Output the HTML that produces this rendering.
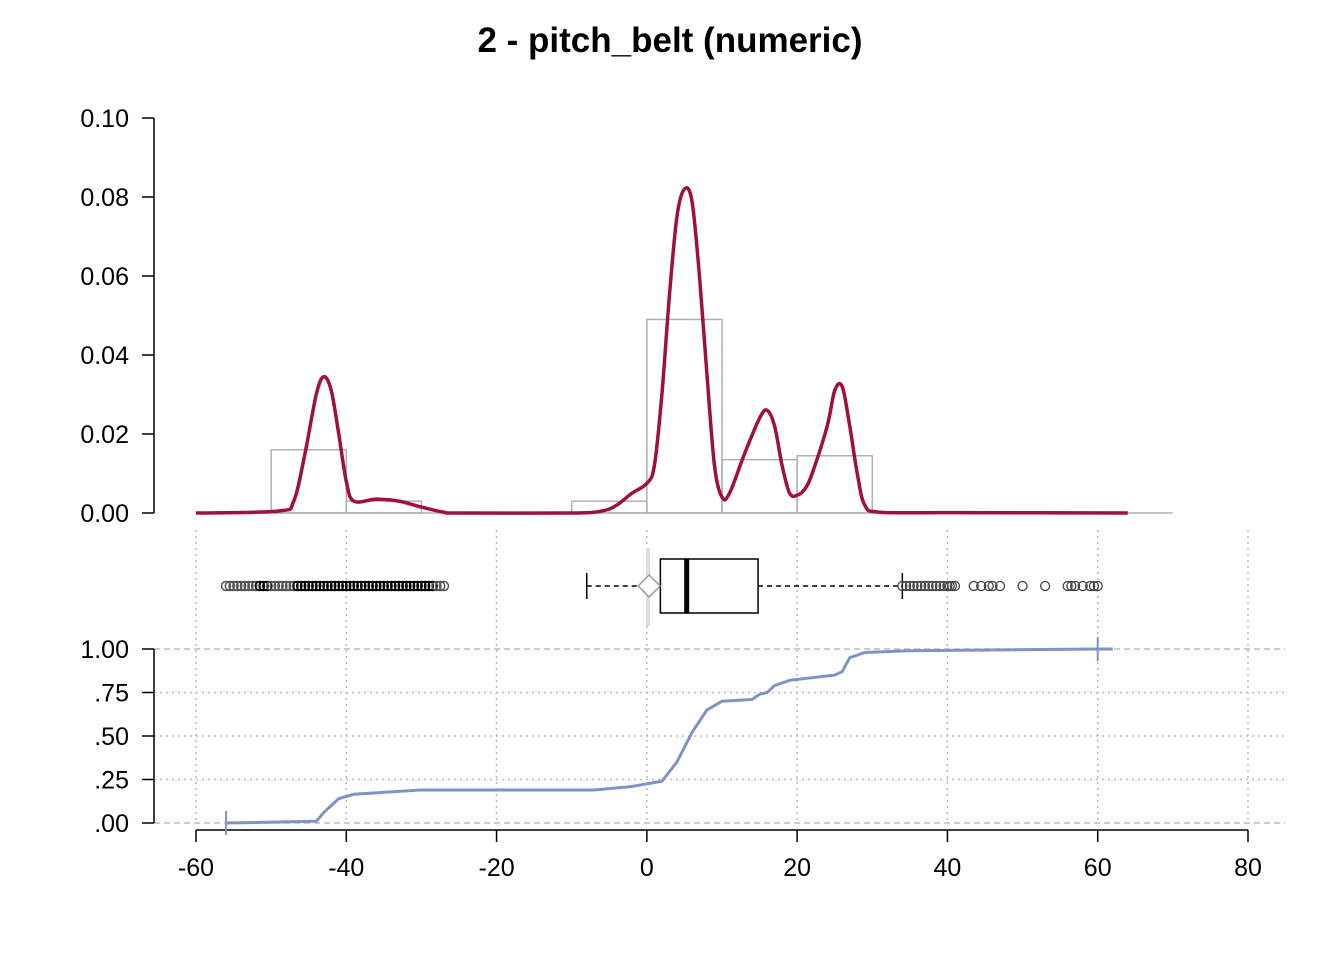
<!DOCTYPE html>
<html><head><meta charset="utf-8"><style>
body{margin:0;background:#fff}
text{font-family:"Liberation Sans",Arial,sans-serif}
</style></head><body>
<svg id="c" width="1344" height="960" xmlns="http://www.w3.org/2000/svg">
<text x="670" y="52" text-anchor="middle" font-size="35" font-weight="bold">2 - pitch_belt (numeric)</text>
<g id="g"></g>
</svg>
<script>
const histBins=[-50,-40,-30,-20,-10,0,10,20];
const histVals=[0.016,0.003,0,0,0.003,0.049,0.0135,0.0145];
const densX=[-60,-49,-47,-45.5,-44,-43,-42,-41,-40,-39,-36,-33,-30,-27,-25,-10,-6,-4,-2,0,1,2,3,4,5,6,7,8,9,10,11,13,15,16,17,18,19,20,21,22,24,25,26,27,28,29,31,40,64];
const densY=[0,0.0005,0.003,0.015,0.03,0.0345,0.031,0.02,0.008,0.003,0.0035,0.003,0.0015,0.0002,0,0,0.0005,0.002,0.005,0.0075,0.012,0.03,0.055,0.075,0.082,0.079,0.06,0.035,0.012,0.004,0.005,0.015,0.024,0.026,0.022,0.012,0.005,0.0045,0.006,0.01,0.022,0.031,0.032,0.022,0.01,0.002,0.0002,0.0001,0];
const ecdfX=[-56,-44,-43,-41,-39,-30,-20,-7,-2,2,4,6,8,10,14,15,16,17,19,25,26,27,29,35,60];
const ecdfY=[0,0.01,0.06,0.14,0.165,0.19,0.19,0.19,0.21,0.24,0.35,0.52,0.65,0.70,0.71,0.74,0.75,0.79,0.82,0.85,0.87,0.95,0.98,0.99,1.0];
const boxStats=[-8,1.8,5.3,14.8,34]; const meanVal=0.3;
const outliersLeft=[-56,-55.5,-55,-54.5,-54,-53.5,-53,-52.5,-52,-51.5,-51,-50.5,-50,-49.5,-49,-48.5,-48,-47.5,-47,-46.5,-46,-45.5,-45,-44.5,-44,-43.5,-43,-42.5,-42,-41.5,-41,-40.5,-40,-39.5,-39,-38.5,-38,-37.5,-37,-36.5,-36,-35.5,-35,-34.5,-34,-33.5,-33,-32.5,-32,-31.5,-31,-30.5,-30,-29.5,-29,-28.5,-28,-27.5,-27];
const outliersRight=[34,34.5,35,35.5,36,36.5,37,37.5,38,38.5,39,39.5,40,40.3,40.6,41,43.5,44.5,45.5,46,47,50,53,56,56.5,57,58,59,59.5,60];
const xTicks=[-60,-40,-20,0,20,40,60,80];
const densTicks=[0,0.02,0.04,0.06,0.08,0.10];
const ecdfTicks=[0,0.25,0.5,0.75,1];
const ecdfLabels=[".00",".25",".50",".75","1.00"];
const X=v=>196+(v+60)*1052/140, YD=v=>513-v*3950, YE=v=>823-v*174;
const g=document.getElementById('g');const NS='http://www.w3.org/2000/svg';
function el(t,a,name){const e=document.createElementNS(NS,t);for(const k in a)e.setAttribute(k,a[k]);


g.appendChild(e);return e;}
function smooth(pts){let d='M'+pts[0][0]+','+pts[0][1];for(let i=0;i<pts.length-1;i++){const p0=pts[i-1]||pts[i],p1=pts[i],p2=pts[i+1],p3=pts[i+2]||p2;
const c1=[p1[0]+(p2[0]-p0[0])/6,p1[1]+(p2[1]-p0[1])/6],c2=[p2[0]-(p3[0]-p1[0])/6,p2[1]-(p3[1]-p1[1])/6];
d+=` C${c1[0]},${c1[1]} ${c2[0]},${c2[1]} ${p2[0]},${p2[1]}`;}return d;}
// grid
xTicks.forEach(v=>el('line',{x1:X(v),x2:X(v),y1:530,y2:823,stroke:'#bbb','stroke-dasharray':'2,4','stroke-width':1.5},'grid-vertical'));
ecdfTicks.forEach(v=>el('line',{x1:154,x2:1285,y1:YE(v),y2:YE(v),stroke:'#bbb','stroke-dasharray':(v==0||v==1)?'6,4':'2,4','stroke-width':1.5},'grid-horizontal'));
// histogram
histBins.forEach((b,i)=>{if(histVals[i]>0)el('rect',{x:X(b),y:YD(histVals[i]),width:X(b+10)-X(b),height:YD(0)-YD(histVals[i]),fill:'none',stroke:'#b0b0b0','stroke-width':1.5},'histogram-bar');});
el('line',{x1:X(-60),x2:X(70),y1:513,y2:513,stroke:'#b0b0b0','stroke-width':1.5},'histogram-baseline');
el('path',{d:smooth(densX.map((x,i)=>[X(x),YD(densY[i])])),fill:'none',stroke:'#a0103f','stroke-width':3.5,'stroke-linejoin':'round'},'density-curve');
// axes
el('line',{x1:154,x2:154,y1:YD(0.1),y2:YD(0),stroke:'#000','stroke-width':1.5},'density-y-axis');
densTicks.forEach(v=>{el('line',{x1:142,x2:154,y1:YD(v),y2:YD(v),stroke:'#000','stroke-width':1.5},'density-y-tick');
const t=el('text',{x:129,y:YD(v)+9,'text-anchor':'end','font-size':25},'density-y-label');t.textContent=v.toFixed(2);});
el('line',{x1:154,x2:154,y1:YE(1),y2:YE(0),stroke:'#000','stroke-width':1.5},'ecdf-y-axis');
ecdfTicks.forEach((v,i)=>{el('line',{x1:142,x2:154,y1:YE(v),y2:YE(v),stroke:'#000','stroke-width':1.5},'ecdf-y-tick');
const t=el('text',{x:129,y:YE(v)+9,'text-anchor':'end','font-size':25},'ecdf-y-label');t.textContent=ecdfLabels[i];});
el('line',{x1:X(-60),x2:X(80),y1:830,y2:830,stroke:'#000','stroke-width':1.5},'x-axis');
xTicks.forEach(v=>{el('line',{x1:X(v),x2:X(v),y1:830,y2:842,stroke:'#000','stroke-width':1.5},'x-tick');
const t=el('text',{x:X(v),y:876,'text-anchor':'middle','font-size':25},'x-tick-label');t.textContent=v;});
// boxplot
const by=586;
el('line',{x1:648,x2:648,y1:548,y2:626,stroke:'#ddd','stroke-width':4},'zero-marker');
el('line',{x1:X(boxStats[0]),x2:X(boxStats[1]),y1:by,y2:by,stroke:'#000','stroke-dasharray':'5,4','stroke-width':1.5},'whisker-low');
el('line',{x1:X(boxStats[3]),x2:X(boxStats[4]),y1:by,y2:by,stroke:'#000','stroke-dasharray':'5,4','stroke-width':1.5},'whisker-high');
[0,4].forEach(i=>el('line',{x1:X(boxStats[i]),x2:X(boxStats[i]),y1:by-13,y2:by+13,stroke:'#000','stroke-width':1.5},'whisker-cap'));
el('rect',{x:X(boxStats[1]),y:by-27,width:X(boxStats[3])-X(boxStats[1]),height:54,fill:'#fff',stroke:'#000','stroke-width':1.5},'box');
el('line',{x1:X(boxStats[2]),x2:X(boxStats[2]),y1:by-27,y2:by+27,stroke:'#000','stroke-width':5},'median');
const mx=X(meanVal);el('polygon',{points:`${mx-11},${by} ${mx},${by-11} ${mx+11},${by} ${mx},${by+11}`,fill:'#fff',stroke:'#999','stroke-width':1.5},'mean-marker');
outliersLeft.forEach(v=>el('circle',{cx:X(v),cy:by,r:4.5,fill:'none',stroke:(v>-52&&v<-50)||(v>-47&&v<-28)?'#000':'#555','stroke-width':1.5},'outlier'));
outliersRight.forEach(v=>el('circle',{cx:X(v),cy:by,r:4.5,fill:'none',stroke:'#444','stroke-width':1.3},'outlier'));
// ecdf
el('polyline',{points:ecdfX.map((x,i)=>X(x)+','+YE(ecdfY[i])).join(' ')+' '+(X(62))+','+YE(1),fill:'none',stroke:'#7f93c6','stroke-width':3},'ecdf-line');
el('line',{x1:X(-56),x2:X(-56),y1:YE(0)-12,y2:YE(0)+12,stroke:'#7f93c6','stroke-width':2},'ecdf-min-tick');
el('line',{x1:X(60),x2:X(60),y1:YE(1)-12,y2:YE(1)+12,stroke:'#7f93c6','stroke-width':2},'ecdf-max-tick');
</script>
</body></html>
